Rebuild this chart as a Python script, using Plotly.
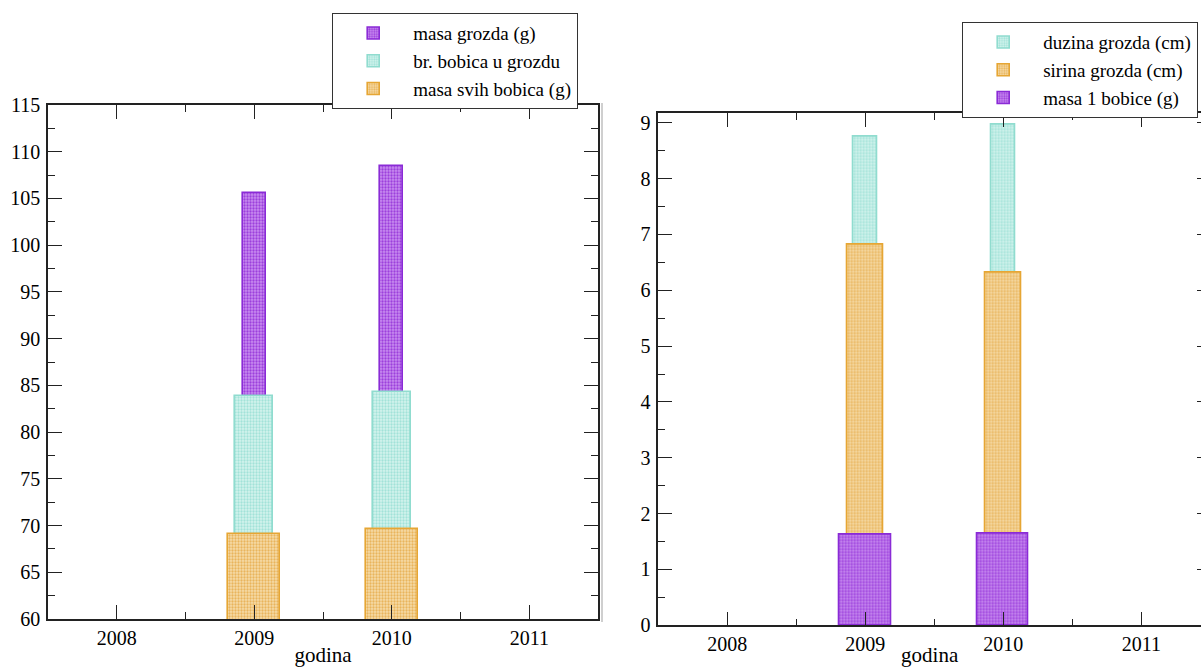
import plotly.graph_objects as go

# Years on the x axis
years = [2009, 2010]

# Left panel: bunch mass, berries per bunch, mass of all berries
masa_grozda = [105.6, 108.5]
br_bobica = [83.9, 84.3]
masa_svih_bobica = [69.1, 69.6]

# Right panel: bunch length, bunch width, single berry mass
duzina_grozda = [8.75, 8.97]
sirina_grozda = [6.81, 6.31]
masa_1_bobice = [1.63, 1.64]

year_ticks = [2008, 2009, 2010, 2011]
year_labels = ["2008", "2009", "2010", "2011"]

FONT = "Liberation Serif"

PURPLE = dict(line="#8a2bd6", bg="#c88cf0", fg="#9c40dc")
TEAL = dict(line="#90dccf", bg="#d4f4ee", fg="#a2e2d8")
ORANGE = dict(line="#e6a634", bg="#f6dca8", fg="#e9b45c")


def bar(x, y, name, col, width, xa, ya, legend):
    return go.Bar(
        x=x, y=y, name=name, width=width, xaxis=xa, yaxis=ya, legend=legend,
        marker=dict(
            color=col["bg"],
            line=dict(color=col["line"], width=1.6),
            pattern=dict(shape=".", fgcolor=col["fg"], bgcolor=col["bg"],
                         size=3, solidity=0.45, fillmode="replace"),
        ),
        hoverinfo="x+y",
    )


fig = go.Figure()

# Left panel: widest bar drawn last, on top
fig.add_trace(bar(years, masa_grozda, "masa grozda (g)", PURPLE, 0.17, "x", "y", "legend"))
fig.add_trace(bar(years, br_bobica, "br. bobica u grozdu", TEAL, 0.275, "x", "y", "legend"))
fig.add_trace(bar(years, masa_svih_bobica, "masa svih bobica (g)", ORANGE, 0.38, "x", "y", "legend"))

# Right panel
fig.add_trace(bar(years, duzina_grozda, "duzina grozda (cm)", TEAL, 0.175, "x2", "y2", "legend2"))
fig.add_trace(bar(years, sirina_grozda, "sirina grozda (cm)", ORANGE, 0.265, "x2", "y2", "legend2"))
fig.add_trace(bar(years, masa_1_bobice, "masa 1 bobice (g)", PURPLE, 0.37, "x2", "y2", "legend2"))

# empty trace so the right-hand tick axis gets drawn
fig.add_trace(go.Scatter(x=[None], y=[None], xaxis="x2", yaxis="y3",
                         showlegend=False, hoverinfo="skip"))

tickfont = dict(family=FONT, size=20, color="black")


def xaxis(domain, anchor, rng):
    return dict(
        domain=domain, anchor=anchor, range=rng,
        tickvals=year_ticks, ticktext=year_labels,
        ticks="inside", ticklen=14, tickwidth=1.3, tickcolor="#222",
        minor=dict(ticks="inside", ticklen=7, dtick=0.5, tick0=2007.5,
                   tickwidth=1.3, tickcolor="#222"),
        showline=True, linecolor="#222", linewidth=1.6, mirror="ticks",
        showgrid=False, zeroline=False, tickfont=tickfont,
        title=dict(text="godina", font=dict(family=FONT, size=21, color="black"),
                   standoff=0),
        automargin=False,
    )


def yaxis(domain, anchor, rng, dtick, mirror):
    return dict(
        domain=domain, anchor=anchor, range=rng, dtick=dtick, tick0=0,
        ticks="inside", ticklen=14, tickwidth=1.3, tickcolor="#222",
        minor=dict(ticks="inside", ticklen=7, dtick=dtick / 2,
                   tickwidth=1.3, tickcolor="#222"),
        showline=True, linecolor="#222", linewidth=1.6, mirror=mirror,
        showgrid=False, zeroline=False, tickfont=tickfont, ticklabelstandoff=2,
        automargin=False,
    )


W, H = 1201, 667
left_dom_x = [48 / W, 598 / W]
left_dom_y = [1 - 619 / H, 1 - 105 / H]
right_dom_x = [658.3 / W, 1.0]
right_dom_y = [1 - 625.3 / H, 1 - 112.7 / H]

legend_common = dict(
    bgcolor="white", bordercolor="#333", borderwidth=1.2,
    font=dict(family=FONT, size=19, color="black"),
    itemwidth=70, tracegroupgap=0, xanchor="left", yanchor="top",
    traceorder="normal",
)

fig.update_layout(
    template="none",
    width=W, height=H,
    margin=dict(l=0, r=0, t=0, b=0),
    paper_bgcolor="white", plot_bgcolor="white",
    font=dict(family=FONT, color="black"),
    barmode="overlay", bargap=0,
    xaxis=xaxis(left_dom_x, "y", [2007.5, 2011.5]),
    yaxis=yaxis(left_dom_y, "x", [60, 115], 5, "ticks"),
    xaxis2=xaxis(right_dom_x, "y2", [2007.5, 2011.433]),
    yaxis2=yaxis(right_dom_y, "x2", [0, 9.18], 1, False),
    yaxis3=dict(
        overlaying="y2", side="right", anchor="free", position=1.0,
        range=[0, 9.18], dtick=1, ticks="inside", ticklen=4, tickwidth=1.3,
        tickcolor="#222", showticklabels=False, showline=False,
        showgrid=False, zeroline=False, automargin=False,
    ),
    legend=dict(x=332 / W, y=1 - 13 / H, **legend_common),
    legend2=dict(x=962 / W, y=1 - 22 / H, **legend_common),
    shapes=[
        dict(type="line", xref="paper", yref="paper",
             x0=602 / W, x1=602 / W, y0=1 - 622 / H, y1=1 - 103 / H,
             line=dict(color="#cfcfcf", width=2)),
    ],
)

fig.write_html("out.html")
